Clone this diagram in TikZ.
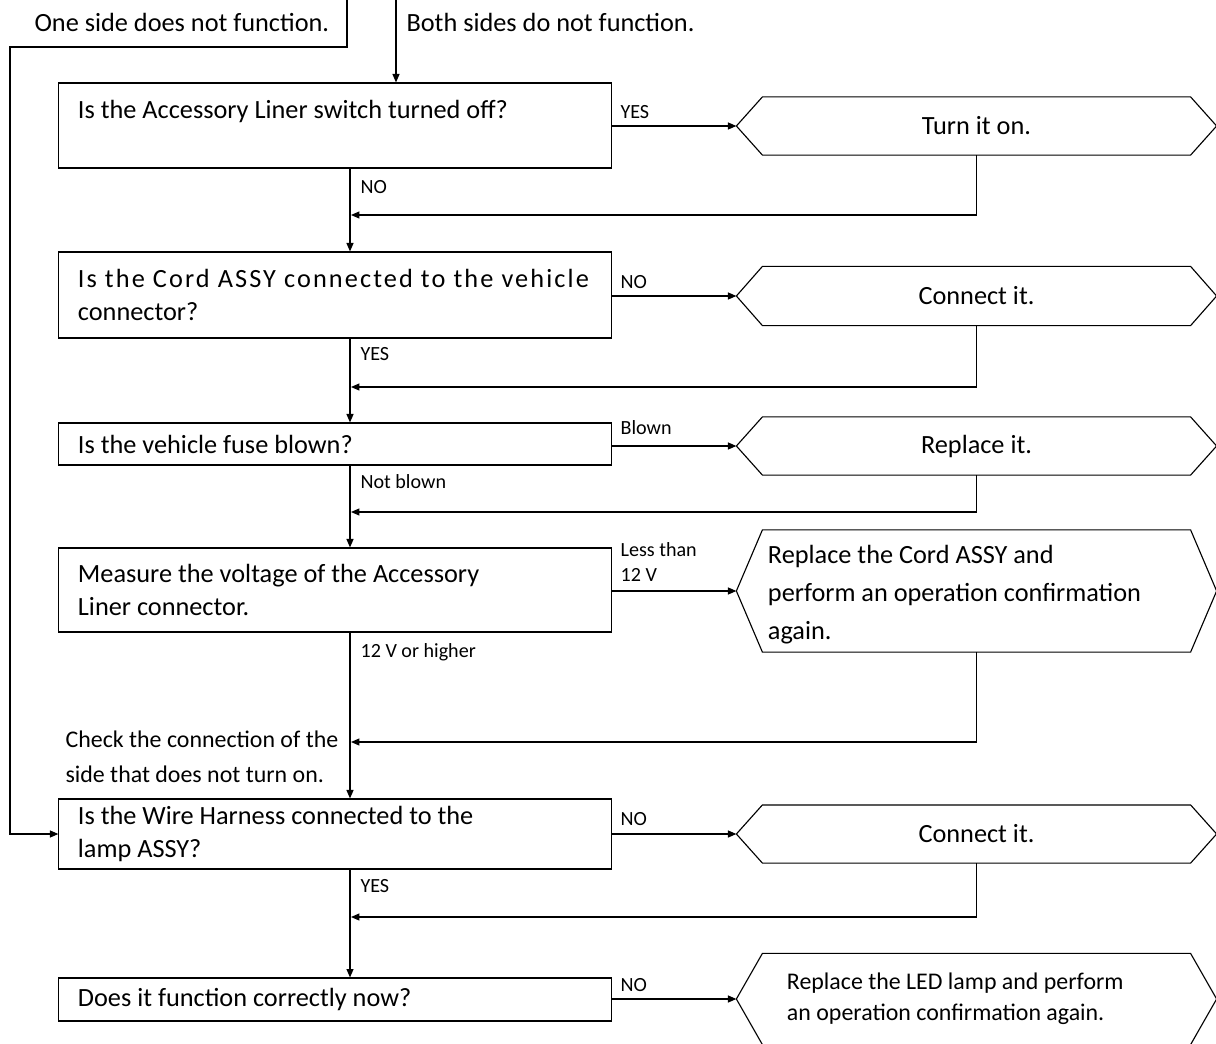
\documentclass[tikz,border=0pt]{standalone}
\usepackage{fontspec}
\setmainfont{Carlito}
\usetikzlibrary{positioning, arrows.meta}

\newcommand\qfont{\fontsize{18.7}{23}\selectfont}
\newcommand\lblfont{\fontsize{14.3}{17.5}\selectfont}
\newcommand\chkfont{\fontsize{17}{25}\selectfont}

\begin{document}
\begin{tikzpicture}[x=0.025cm, y=-0.025cm, line width=0.8pt, >={Triangle[length=6pt, width=5pt]},
    qbox/.style={draw, rectangle, minimum width=13.8cm, text width=12.85cm, inner xsep=0.475cm, inner ysep=0pt, align=flush left, font=\qfont},
    hexnode/.style={minimum width=10.675cm, inner sep=0pt, font=\qfont},
    lbl/.style={anchor=west, inner sep=0pt, font=\lblfont}]
        \useasboundingbox (0,0) rectangle (1216,1044);
        \coordinate (col) at (350,0);
        \coordinate (top1) at (347,0);
        \coordinate (top2) at (396,0);
        \coordinate (bendl) at (10,47);
        \node[anchor=west, inner sep=0pt, font=\qfont] (oneside) at (34,22) {One side does not function.};
        \node[anchor=west, inner sep=0pt, font=\qfont] (bothsides) at (406,22) {Both sides do not function.};
        % questions
        \node[qbox, minimum height=2.125cm] (q1) at (335,125.5) {Is the Accessory Liner switch turned off?\\ \mbox{}};
        \node[qbox, minimum height=2.15cm] (q2) at (335,295) {\mbox{\addfontfeatures{LetterSpace=8}Is the Cord ASSY connected to the vehicle}\\connector?};
        \node[qbox, minimum height=1.05cm] (q3) at (335,444) {Is the vehicle fuse blown?};
        \node[qbox, minimum height=2.1cm] (q4) at (335,590) {Measure the voltage of the Accessory\\Liner connector.};
        \node[qbox, minimum height=1.75cm] (q5) at (335,834) {Is the Wire Harness connected to the\\lamp ASSY?};
        \node[qbox, minimum height=1.075cm] (q6) at (335,999.5) {Does it function correctly now?};
        % actions
        \node[hexnode, minimum height=1.425cm] (h1) at (976.5,126) {Turn it on.};
        \node[hexnode, minimum height=1.45cm] (h2) at (976.5,296) {Connect it.};
        \node[hexnode, minimum height=1.425cm] (h3) at (976.5,446) {Replace it.};
        \node[hexnode, minimum height=3.025cm, text width=10.425cm, inner xsep=0.125cm, align=flush left, font=\fontsize{18.7}{27}\selectfont] (h4) at (976.5,591) {\rule{0pt}{18pt}Replace the Cord ASSY and\\perform an operation confirmation\\again.};
        \node[hexnode, minimum height=1.425cm] (h5) at (976.5,834) {Connect it.};
        \node[hexnode, minimum height=2.25cm, text width=9.475cm, inner xsep=0.6cm, align=flush left, font=\fontsize{17}{22}\selectfont] (h6) at (976.5,999) {Replace the LED lamp and perform\\an operation confirmation again.};
        \foreach \h in {h1,h2,h3,h4,h5,h6}
            \draw (\h.north west) -- (\h.north east) -- ([xshift=0.65cm]\h.east) -- (\h.south east) -- (\h.south west) -- ([xshift=-0.65cm]\h.west) -- cycle;
        % labels
        \node[lbl] (yes1) at (620,112) {YES};
        \node[lbl] (no1) at (360,187) {NO};
        \node[lbl] (no2) at (620,282) {NO};
        \node[lbl] (yes2) at (360,354) {YES};
        \node[lbl] (blown) at (620,428) {Blown};
        \node[lbl] (notblown) at (360,482) {Not blown};
        \node[lbl, align=flush left] (less) at (620,562) {Less than\\12 V};
        \node[lbl] (higher) at (360,652) {12 V or higher};
        \node[lbl] (no3) at (620,819) {NO};
        \node[lbl] (yes3) at (360,886) {YES};
        \node[lbl] (no4) at (620,985) {NO};
        \node[anchor=west, inner sep=0pt, align=flush left, font=\chkfont] (check) at (65,757) {Check the connection of the\\side that does not turn on.};
        % junctions on the main line
        \coordinate (j1) at (351,215);
        \coordinate (j2) at (351,387);
        \coordinate (j3) at (351,512);
        \coordinate (j4) at (351,742);
        \coordinate (j5) at (351,917);
        % connectors
        \draw[->] (top1) |- (bendl) |- (q5.west);
        \draw[->] (top2) -- (q1.north -| top2);
        \foreach \a/\b in {q1/q2, q2/q3, q3/q4, q4/q5, q5/q6}
            \draw[->] (\a.south -| col) -- (\b.north -| col);
        \foreach \q/\h in {q1/h1, q2/h2, q3/h3, q4/h4, q5/h5, q6/h6}
            \draw[->] (\q.east |- \h.west) -- ([xshift=-0.65cm]\h.west);
        \foreach \h/\j in {h1/j1, h2/j2, h3/j3, h4/j4, h5/j5}
            \draw[->] (\h.south) |- (\j);
\end{tikzpicture}
\end{document}
